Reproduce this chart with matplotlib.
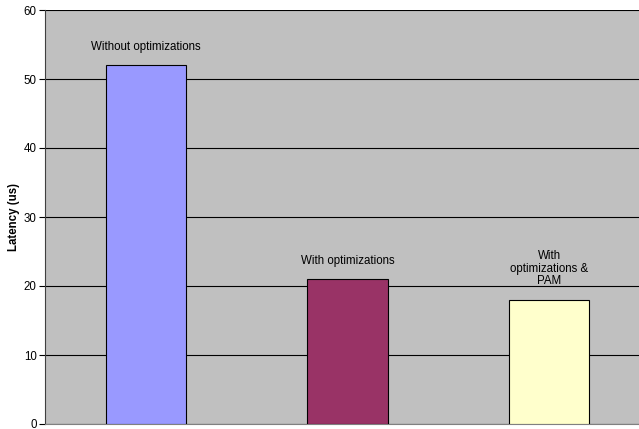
import matplotlib.pyplot as plt

plt.rcParams['font.family'] = ['Liberation Sans', 'DejaVu Sans']

# Data
labels = ['Without optimizations', 'With optimizations', 'With\noptimizations &\nPAM']
latency = [52, 21, 18]
colors = ['#9999FF', '#993366', '#FFFFCC']

fig = plt.figure(figsize=(6.39, 4.29), dpi=100)
# plot area runs past the right edge of the image
ax = fig.add_axes([45 / 639, 5 / 429, 605 / 639, 414 / 429])
ax.set_facecolor('#C0C0C0')

x = range(len(latency))
bars = ax.bar(x, latency, width=0.397, color=colors, edgecolor='black',
              linewidth=0.8, zorder=3)

# Data labels above the bars
for xi, v, lab in zip(x, latency, labels):
    ax.annotate(lab, (xi, v), xytext=(0, 9), textcoords='offset points',
                ha='center', va='bottom', fontsize=8.3, linespacing=1.05)

ax.set_xlim(-0.5, 2.5)
ax.set_ylim(0, 60)
ax.set_yticks(range(0, 61, 10))
ax.set_xticks([])
ax.yaxis.grid(True, color='black', linewidth=0.8)
ax.set_axisbelow(True)

for s in ['top', 'right']:
    ax.spines[s].set_visible(False)
ax.spines['left'].set_color('#404040')
ax.spines['bottom'].set_color('#808080')
ax.tick_params(axis='y', length=4, width=0.8, labelsize=8.3, pad=2)

ax.set_ylabel('Latency (us)', fontsize=8.3, fontweight='bold', labelpad=3)

fig.savefig('out.png', dpi=100)
